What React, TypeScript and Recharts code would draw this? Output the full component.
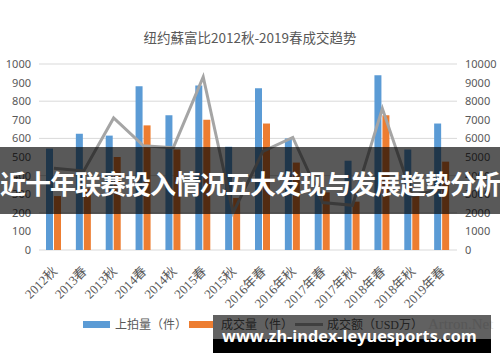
import { ComposedChart, Bar, Line, XAxis, YAxis, CartesianGrid, Legend } from "recharts";

const categories = [
  "2012秋",
  "2013春",
  "2013秋",
  "2014春",
  "2014秋",
  "2015春",
  "2015秋",
  "2016年春",
  "2016年秋",
  "2017年春",
  "2017年秋",
  "2018年春",
  "2018年秋",
  "2019年春",
];
// 上拍量（件）
const listedCount = [545, 625, 615, 880, 725, 885, 555, 870, 600, 320, 480, 940, 540, 680];
// 成交量（件）
const soldCount = [290, 330, 500, 670, 540, 700, 280, 680, 470, 310, 260, 725, 300, 475];
// 成交额（USD万）
const turnover = [4400, 4250, 7100, 5600, 5500, 9300, 2000, 5300, 6050, 2550, 2400, 7600, 2900, 3300];

const leftTicks = [0, 100, 200, 300, 400, 500, 600, 700, 800, 900, 1000];
const rightTicks = [0, 1000, 2000, 3000, 4000, 5000, 6000, 7000, 8000, 9000, 10000];

const BLUE = "#5B9BD5";
const ORANGE = "#ED7D31";
const GREY = "#A5A5A5";
const TEXT = "#595959";

const data = categories.map((cat, i) => ({
  cat,
  listed: listedCount[i],
  sold: soldCount[i],
  turnover: turnover[i],
}));

function SlantTick({ x, y, payload }: any) {
  const ax = x + 4;
  const ay = y + 14;
  return (
    <text
      x={ax}
      y={ay}
      transform={`rotate(-45, ${ax}, ${ay})`}
      textAnchor="end"
      fill={TEXT}
      fontSize={13}
      fontFamily='"Liberation Serif", "Noto Sans CJK SC", serif'
    >
      {payload.value}
    </text>
  );
}

function LegendRow() {
  const label = { color: TEXT, whiteSpace: "nowrap" as const };
  return (
    <div
      style={{
        display: "flex",
        alignItems: "center",
        paddingLeft: 83,
        height: 20,
        fontSize: 12,
        fontFamily: '"Liberation Serif", "Noto Sans CJK SC", serif',
      }}
    >
      <span style={{ width: 27, height: 7, background: BLUE, marginRight: 5 }} />
      <span style={{ ...label, width: 66, marginRight: 8 }}>上拍量（件）</span>
      <span style={{ width: 24, height: 7, background: ORANGE, marginRight: 8 }} />
      <span style={{ ...label, width: 66, marginRight: 8 }}>成交量（件）</span>
      <span style={{ width: 28, height: 3, background: GREY, marginRight: 4 }} />
      <span style={label}>成交额（USD万）</span>
    </div>
  );
}

export default function App() {
  return (
    <div
      style={{
        position: "absolute",
        left: 0,
        top: 0,
        width: 500,
        height: 362,
        background: "#fff",
        overflow: "hidden",
      }}
    >
      <div
        style={{
          position: "absolute",
          top: 27,
          left: 0,
          width: 500,
          textAlign: "center",
          lineHeight: "20px",
          fontSize: 13.5,
          color: TEXT,
          fontFamily: '"Noto Sans CJK SC", sans-serif',
        }}
      >
        纽约蘇富比2012秋-2019春成交趋势
      </div>

      <ComposedChart
        width={500}
        height={362}
        data={data}
        margin={{ top: 64, right: 0, left: 0, bottom: 0 }}
        barSize={7}
        barGap={1}
      >
        <CartesianGrid yAxisId="left" stroke="#D9D9D9" vertical={false} />
        <XAxis
          dataKey="cat"
          height={112}
          interval={0}
          tickLine={false}
          axisLine={false}
          tick={<SlantTick />}
        />
        <YAxis
          yAxisId="left"
          domain={[0, 1000]}
          ticks={leftTicks}
          width={39}
          tickLine={false}
          axisLine={false}
          tick={{ fill: TEXT, fontSize: 11, fontFamily: "Noto Sans, sans-serif" }}
        />
        <YAxis
          yAxisId="right"
          orientation="right"
          domain={[0, 10000]}
          ticks={rightTicks}
          width={43}
          tickLine={false}
          axisLine={false}
          tick={{ fill: TEXT, fontSize: 11, fontFamily: "Noto Sans, sans-serif", textAnchor: "start" }}
        />
        <Legend
          layout="horizontal"
          verticalAlign="middle"
          wrapperStyle={{ top: 314, left: 0, width: 500 }}
          content={<LegendRow />}
        />
        <Bar yAxisId="left" dataKey="listed" name="上拍量（件）" fill={BLUE} isAnimationActive={false} />
        <Bar yAxisId="left" dataKey="sold" name="成交量（件）" fill={ORANGE} isAnimationActive={false} />
        <Line
          yAxisId="right"
          type="linear"
          dataKey="turnover"
          name="成交额（USD万）"
          stroke={GREY}
          strokeWidth={3}
          dot={false}
          isAnimationActive={false}
        />
      </ComposedChart>

      {/* faint source mark under the footer banner */}
      <div
        style={{
          position: "absolute",
          left: 428,
          top: 316,
          fontSize: 15,
          color: "#e4e4e4",
          fontFamily: '"Liberation Serif", serif',
        }}
      >
        Artron.Net
      </div>

      {/* headline banner across the middle */}
      <div
        style={{
          position: "absolute",
          left: 0,
          top: 147,
          width: 500,
          height: 67,
          background: "rgba(0,0,0,0.65)",
        }}
      />
      <div
        style={{
          position: "absolute",
          left: 0,
          top: 166,
          width: 500,
          lineHeight: "34px",
          whiteSpace: "nowrap",
          color: "#fff",
          fontSize: 26,
          letterSpacing: -1,
          fontWeight: 700,
          fontFamily: '"Noto Sans CJK SC", sans-serif',
        }}
      >
        近十年联赛投入情况五大发现与发展趋势分析
      </div>

      {/* footer banner */}
      <div
        style={{
          position: "absolute",
          left: 213,
          top: 315,
          width: 278,
          height: 24,
          background: "rgba(0,0,0,0.62)",
        }}
      />
      <div
        style={{
          position: "absolute",
          left: 213,
          top: 339,
          width: 278,
          height: 14,
          background: "#000",
        }}
      />
      <div
        style={{
          position: "absolute",
          left: 222,
          top: 325,
          lineHeight: "22px",
          whiteSpace: "nowrap",
          color: "#fff",
          fontSize: 16.3,
          fontWeight: 700,
          fontFamily: '"Open Sans", sans-serif',
        }}
      >
        www.zh-index-leyuesports.com
      </div>
    </div>
  );
}
